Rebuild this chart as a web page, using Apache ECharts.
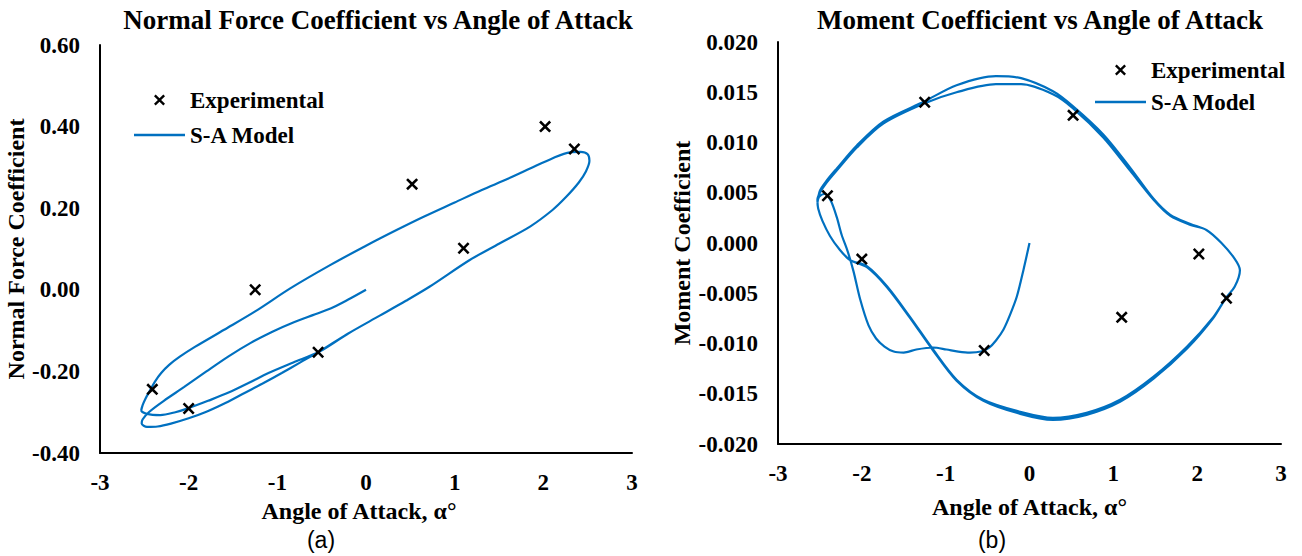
<!DOCTYPE html>
<html><head><meta charset="utf-8">
<script src="https://cdn.jsdelivr.net/npm/echarts@6.0.0/dist/echarts.min.js"></script>
<style>html,body{margin:0;padding:0;background:#fff}#c{width:1302px;height:556px}</style>
</head><body><div id="c"></div>
<script>
// ---- tick labels ----
const xTicks = [-3, -2, -1, 0, 1, 2, 3];
const cnTicks = [-0.40, -0.20, 0.00, 0.20, 0.40, 0.60];
const cmTicks = [-0.020, -0.015, -0.010, -0.005, 0.000, 0.005, 0.010, 0.015, 0.020];

// ---- experimental points ----
const expAlpha = [-2.41, -2.00, -1.25, -0.54, 0.52, 1.10, 2.02, 2.35];
const expCn    = [-0.244, -0.291, 0.000, -0.153, 0.259, 0.102, 0.400, 0.345];
const expCm    = [0.0047, -0.0016, 0.0140, -0.0107, 0.0127, -0.0074, -0.0011, -0.0055];

// ---- S-A model, normal force: branches [alpha, Cn] ----
const cnTransient = [[0.00,0.000],[-0.20,-0.024],[-0.40,-0.046],[-0.60,-0.062],[-0.82,-0.080],[-1.05,-0.102],[-1.30,-0.130],[-1.55,-0.163],[-1.80,-0.200],[-2.05,-0.238],[-2.28,-0.272],[-2.45,-0.300],[-2.52,-0.318]];
const cnUpFirst = [[-2.53,-0.328],[-2.47,-0.336],[-2.35,-0.335],[-2.20,-0.328],[-2.00,-0.315],[-1.80,-0.299],[-1.58,-0.277],[-1.37,-0.253],[-1.15,-0.228],[-0.95,-0.204],[-0.75,-0.179]];
const cnUpRegular = [[-2.47,-0.304],[-2.32,-0.307],[-2.15,-0.300],[-2.00,-0.290],[-1.78,-0.272],[-1.55,-0.252],[-1.32,-0.228],[-1.10,-0.204],[-0.82,-0.178]];
const cnUpCommon = [[-0.53,-0.152],[-0.20,-0.107],[0.15,-0.064],[0.45,-0.027],[0.72,0.008],[1.17,0.073],[1.50,0.113],[1.85,0.155],[2.10,0.195],[2.25,0.226],[2.40,0.263],[2.48,0.290],[2.52,0.316]];
const cnDown = [[2.50,0.332],[2.42,0.338],[2.30,0.337],[2.10,0.322],[1.85,0.297],[1.60,0.272],[1.30,0.244],[1.00,0.214],[0.65,0.179],[0.35,0.147],[0.00,0.108],[-0.40,0.061],[-0.85,0.004],[-1.25,-0.053],[-1.60,-0.098],[-1.93,-0.140],[-2.10,-0.164],[-2.22,-0.184],[-2.31,-0.204],[-2.38,-0.225],[-2.44,-0.248],[-2.49,-0.268],[-2.52,-0.283],[-2.535,-0.295]];

// ---- S-A model, moment: branches [alpha, Cm] ----
const cmTransient = [[0.00,0.0000],[-0.07,-0.0026],[-0.15,-0.0053],[-0.23,-0.0071],[-0.31,-0.0086],[-0.40,-0.0097],[-0.48,-0.0104],[-0.58,-0.0108],[-0.71,-0.0109],[-0.85,-0.0108],[-0.99,-0.0106],[-1.15,-0.0104],[-1.35,-0.0106],[-1.50,-0.0109],[-1.62,-0.0108],[-1.73,-0.0103],[-1.83,-0.0095],[-1.92,-0.0082],[-2.02,-0.0056],[-2.10,-0.0028],[-2.17,-0.0008],[-2.24,0.0008],[-2.30,0.0026],[-2.37,0.0042],[-2.44,0.0049],[-2.51,0.0046],[-2.53,0.0040]];
const cmUpOuter = [[-2.50,0.0052],[-2.42,0.0062],[-2.30,0.0074],[-2.06,0.0097],[-1.74,0.0121],[-1.25,0.0141],[-0.87,0.0157],[-0.40,0.0166],[-0.10,0.0164],[0.28,0.0151],[0.52,0.0136],[0.88,0.0108],[1.20,0.0075],[1.48,0.0044],[1.68,0.0028],[1.92,0.0019],[2.11,0.0013],[2.29,0.0000],[2.45,-0.0016],[2.51,-0.0027],[2.45,-0.0043],[2.34,-0.0055]];
const cmUpInner = [[-2.50,0.0050],[-2.42,0.0060],[-2.30,0.0072],[-2.06,0.0095],[-1.74,0.0119],[-1.25,0.0139],[-0.87,0.0150],[-0.40,0.0158],[-0.10,0.0158],[0.28,0.0148],[0.52,0.0134],[0.88,0.0105],[1.20,0.0072],[1.48,0.0043],[1.68,0.0027],[1.92,0.0018],[2.11,0.0013],[2.29,0.0000],[2.45,-0.0016],[2.51,-0.0027],[2.45,-0.0043],[2.34,-0.0055]];
const cmDownFirst = [[2.19,-0.0075],[1.88,-0.0105],[1.48,-0.0135],[1.08,-0.0158],[0.68,-0.0171],[0.28,-0.0176],[-0.11,-0.0170],[-0.55,-0.0157],[-0.87,-0.0137],[-1.15,-0.0107],[-1.43,-0.0074],[-1.70,-0.0044],[-1.94,-0.0024],[-2.14,-0.0017],[-2.27,-0.0006],[-2.38,0.0007],[-2.47,0.0022],[-2.52,0.0034],[-2.53,0.0043]];
const cmDown = [[2.19,-0.0074],[1.88,-0.0103],[1.48,-0.0133],[1.08,-0.0156],[0.68,-0.0169],[0.28,-0.0174],[-0.11,-0.0168],[-0.55,-0.0156],[-0.87,-0.0136],[-1.15,-0.0106],[-1.43,-0.0073],[-1.70,-0.0043],[-1.94,-0.0023],[-2.14,-0.0017],[-2.27,-0.0006],[-2.38,0.0007],[-2.47,0.0022],[-2.52,0.0034],[-2.53,0.0043]];

const cnModel = [].concat(cnTransient, cnUpFirst, cnUpCommon, cnDown, cnUpRegular, cnUpCommon, cnDown, cnUpRegular, cnUpCommon, cnDown);
const cmModel = [].concat(cmTransient, cmUpOuter, cmDownFirst, cmUpInner, cmDown, cmUpInner, cmDown);

const SERIF = "'Liberation Serif', 'Times New Roman', serif";
const BLUE = '#0070C0';
const CROSS = 'path://M1.5,0L5,3.5L8.5,0L10,1.5L6.5,5L10,8.5L8.5,10L5,6.5L1.5,10L0,8.5L3.5,5L0,1.5Z';
const LINE_ICON = 'path://M0,0L51,0L51,2.6L0,2.6Z';

const chart = echarts.init(document.getElementById('c'), null, {renderer: 'svg'});

function xAxis(gi, gap, shift) {
  return {
    type: 'value', gridIndex: gi,
    min: xTicks[0], max: xTicks[xTicks.length - 1], interval: xTicks[1] - xTicks[0],
    axisLine: {onZero: false, lineStyle: {color: '#000', width: 2}},
    axisTick: {show: false}, splitLine: {show: false},
    axisLabel: {margin: 18, color: '#000', fontFamily: SERIF, fontWeight: 'bold', fontSize: 23},
    name: 'Angle of Attack, α°', nameLocation: 'middle', nameGap: gap,
    nameTextStyle: {color: '#000', fontFamily: SERIF, fontWeight: 'bold', fontSize: 24, padding: [0, shift, 0, 0]}
  };
}
function yAxis(gi, ticks, dec, name, gap) {
  return {
    type: 'value', gridIndex: gi,
    min: ticks[0], max: ticks[ticks.length - 1], interval: +(ticks[1] - ticks[0]).toFixed(6),
    axisLine: {show: true, onZero: false, lineStyle: {color: '#000', width: 2}},
    axisTick: {show: false}, splitLine: {show: false},
    axisLabel: {margin: 20, color: '#000', fontFamily: SERIF, fontWeight: 'bold', fontSize: 23,
      formatter: v => (Math.abs(v) < 1e-9 ? 0 : v).toFixed(dec)},
    name: name, nameLocation: 'middle', nameGap: gap,
    nameTextStyle: {color: '#000', fontFamily: SERIF, fontWeight: 'bold', fontSize: 24}
  };
}
function legend(left, top, gap) {
  return {
    left: left, top: top, orient: 'vertical', padding: 0, itemGap: gap,
    itemWidth: 51, itemHeight: 11, selectedMode: false,
    data: [{name: 'Experimental'}, {name: 'S-A Model', icon: LINE_ICON, itemStyle: {color: BLUE}}],
    textStyle: {color: '#000', fontFamily: SERIF, fontWeight: 'bold', fontSize: 23, lineHeight: 24}
  };
}
function txt(x, y, text, size, family, weight) {
  return {type: 'text', x: x, y: y, silent: true,
    style: {text: text, fill: '#000', fontSize: size, fontFamily: family, fontWeight: weight, align: 'center', verticalAlign: 'middle'}};
}

chart.setOption({
  animation: false,
  backgroundColor: '#fff',
  grid: [
    {left: 100, top: 45, width: 532, height: 408},
    {left: 778, top: 42, width: 503, height: 402}
  ],
  xAxis: [xAxis(0, 40, 14), xAxis(1, 51, 0)],
  yAxis: [
    yAxis(0, cnTicks, 2, 'Normal Force Coefficient', 66),
    yAxis(1, cmTicks, 3, 'Moment Coefficient', 84)
  ],
  legend: [legend(134, 88, 11), legend(1095, 58, 8)],
  graphic: [
    txt(378, 20, 'Normal Force Coefficient vs Angle of Attack', 27, SERIF, 'bold'),
    txt(1040, 20, 'Moment Coefficient vs Angle of Attack', 27, SERIF, 'bold'),
    txt(321, 540, '(a)', 23, "'Liberation Sans', Arial, sans-serif", 'normal'),
    txt(992, 540, '(b)', 23, "'Liberation Sans', Arial, sans-serif", 'normal')
  ],
  series: [
    {name: 'S-A Model', type: 'line', xAxisIndex: 0, yAxisIndex: 0, data: cnModel,
     symbol: 'none', smooth: 0.3, z: 2, lineStyle: {color: BLUE, width: 2.2}, itemStyle: {color: BLUE}},
    {name: 'S-A Model', type: 'line', xAxisIndex: 1, yAxisIndex: 1, data: cmModel,
     symbol: 'none', smooth: 0.3, z: 2, lineStyle: {color: BLUE, width: 2.2}, itemStyle: {color: BLUE}},
    {name: 'Experimental', type: 'scatter', xAxisIndex: 0, yAxisIndex: 0,
     data: expAlpha.map((a, i) => [a, expCn[i]]),
     symbol: CROSS, symbolSize: 12, z: 5, itemStyle: {color: '#000', opacity: 1}},
    {name: 'Experimental', type: 'scatter', xAxisIndex: 1, yAxisIndex: 1,
     data: expAlpha.map((a, i) => [a, expCm[i]]),
     symbol: CROSS, symbolSize: 12, z: 5, itemStyle: {color: '#000', opacity: 1}}
  ]
});
</script></body></html>
